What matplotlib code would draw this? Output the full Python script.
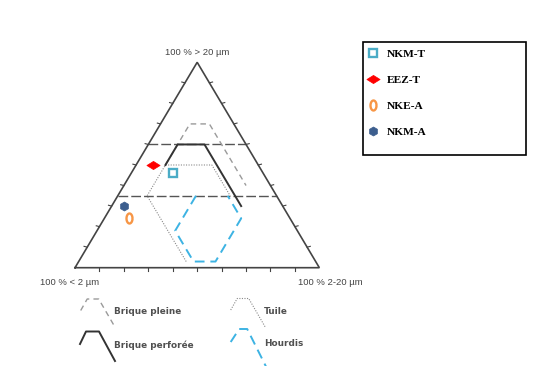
import numpy as np
import matplotlib
matplotlib.use("Agg")
import matplotlib.pyplot as plt
from matplotlib.path import Path
from matplotlib.patches import Rectangle

# ---------------- data (ternary %: >20 µm, 2-20 µm, <2 µm) ----------------
sample_names = ["NKM-T", "EEZ-T", "NKE-A", "NKM-A"]
coarse = [46, 50, 24, 30]     # > 20 µm
silt = [17, 7, 10, 5]         # 2-20 µm
clay = [37, 43, 66, 65]       # < 2 µm

# domain outlines (Winkler-type diagram), vertices as (>20, 2-20, <2)
brique_pleine = [(50, 12, 38), (70, 12, 18), (70, 20, 10), (40, 50, 10)]
brique_perforee = [(50, 12, 38), (60, 12, 28), (60, 23, 17), (30, 53, 17)]
tuile = [(3, 44, 53), (35, 12, 53), (50, 12, 38), (50, 31, 19), (35, 46, 19)]
hourdis = [(35, 32, 33), (18, 32, 50), (3, 47, 50), (3, 56, 41), (24, 56, 20), (35, 45, 20)]
limit_levels = [60, 35]       # horizontal limits on the > 20 µm axis
tick_levels = [10, 20, 30, 40, 50, 60, 70, 80, 90]

corner_labels = ["100 % > 20 µm", "100 % < 2 µm", "100 % 2-20 µm"]
domain_labels = ["Brique pleine", "Tuile", "Brique perforée", "Hourdis"]


def tern(c, s, cl):
    c, s, cl = np.asarray(c, float), np.asarray(s, float), np.asarray(cl, float)
    tot = c + s + cl
    return (s + c / 2.0) / tot, c / tot


def tern_poly(pts):
    a = np.array(pts, float)
    return tern(a[:, 0], a[:, 1], a[:, 2])


fig = plt.figure(figsize=(5.39, 3.66), dpi=100)
ax = fig.add_axes([0, 0, 1, 1])
ax.set_xlim(-0.307, 1.899)
ax.set_ylim(-0.4786, 1.3033)
ax.axis("off")

edge = "#444444"
# triangle
tx, ty = tern_poly([(0, 0, 100), (0, 100, 0), (100, 0, 0), (0, 0, 100)])
ax.plot(tx, ty, color=edge, lw=1.2, solid_joinstyle="miter", zorder=3)

# ticks
for v in tick_levels:
    bx, by = tern(0, v, 100 - v)
    ax.plot([bx, bx], [by, by - 0.016], color=edge, lw=0.8)
    lx, ly = tern(v, 0, 100 - v)
    ax.plot([lx, lx - 0.013], [ly, ly + 0.004], color=edge, lw=0.8)
    rx, ry = tern(v, 100 - v, 0)
    ax.plot([rx, rx + 0.013], [ry, ry + 0.004], color=edge, lw=0.8)

# horizontal limits
for lv in limit_levels:
    hx, hy = tern([lv, lv], [0, 100 - lv], [100 - lv, 0])
    ax.plot(hx, hy, color="#555555", lw=1.0, dashes=(7, 2.2), zorder=2)

# domains
x, y = tern_poly(brique_pleine)
ax.plot(x, y, color="#9a9a9a", lw=1.0, dashes=(4, 3))
x, y = tern_poly(tuile)
ax.plot(x, y, color="#8a8a8a", lw=0.8, dashes=(1, 1.3))
x, y = tern_poly(brique_perforee)
ax.plot(x, y, color="#333333", lw=1.4)
x, y = tern_poly(hourdis)
ax.plot(x, y, color="#3db3e3", lw=1.4, dashes=(5, 3))

# corner labels
lab_kw = dict(fontsize=6.8, color="#444444", family="Liberation Sans")
ax.text(0.5, 1.047, corner_labels[0], ha="center", va="center", **lab_kw)
ax.text(-0.143, -0.073, corner_labels[1], ha="left", va="center", **lab_kw)
ax.text(0.914, -0.073, corner_labels[2], ha="left", va="center", **lab_kw)

# sample markers
diamond = Path([(-1, 0), (0, 0.62), (1, 0), (0, -0.62), (-1, 0)],
               [Path.MOVETO, Path.LINETO, Path.LINETO, Path.LINETO, Path.CLOSEPOLY])
th = np.linspace(0, 2 * np.pi, 40)
ring = Path(np.column_stack([0.6 * np.cos(th), np.sin(th)]))
styles = [
    dict(marker="s", ms=5.4, mfc="none", mec="#4bacc6", mew=1.7),
    dict(marker=diamond, ms=9.5, mfc="#ff0000", mec="#ff0000", mew=0.5),
    dict(marker=ring, ms=7.2, mfc="none", mec="#f79646", mew=1.7),
    dict(marker="h", ms=6.5, mfc="#3c5e8e", mec="#3c5e8e", mew=0.5),
]
sx, sy = tern(coarse, silt, clay)
for i, name in enumerate(sample_names):
    ax.plot(sx[i], sy[i], ls="none", label=name, zorder=5, **styles[i])

leg = ax.legend(loc="upper left", bbox_to_anchor=(367 / 539, 1 - 49.5 / 366),
                bbox_transform=fig.transFigure, frameon=False,
                prop=dict(family="Liberation Serif", weight="bold", size=8.2),
                labelspacing=1.38, handlelength=1.0, handletextpad=0.7,
                borderpad=0, borderaxespad=0, numpoints=1)

# overlay in pixel coordinates for legend decorations
ov = fig.add_axes([0, 0, 1, 1], zorder=-1)
ov.set_xlim(0, 539)
ov.set_ylim(366, 0)
ov.axis("off")
ov.add_patch(Rectangle((363.3, 42.3), 162.7, 112.7, fill=False, ec="black", lw=1.2))

gx = np.array([0, 6.5, 18, 34.5])
gy = np.array([0, -11.5, -11.5, 17])
glyphs = [
    (80.7, 310.5, dict(color="#9a9a9a", lw=1.0, dashes=(4, 3))),
    (230.7, 310.0, dict(color="#8a8a8a", lw=0.8, dashes=(1, 1.3))),
    (80.0, 344.0, dict(color="#333333", lw=1.4)),
    (230.7, 342.0, dict(color="#3db3e3", lw=1.4, dashes=(5, 3))),
]
for (ox, oy, kw), lab in zip(glyphs, domain_labels):
    if lab == "Hourdis":
        ov.plot(ox + np.array([0, 8.5, 16.5, 38]), oy + np.array([0, -13, -13, 30]), **kw)
    elif lab == "Brique perforée":
        ov.plot(ox + np.array([0, 6, 19, 35]), oy + np.array([0, -12.5, -12.5, 17]), **kw)
    else:
        ov.plot(ox + gx, oy + gy, **kw)
    ov.text(ox + 33.5, oy + 1.5, lab, fontsize=6.4, color="#505050",
            family="DejaVu Sans", weight="bold", va="center", ha="left")

fig.savefig("out.png", dpi=100)
